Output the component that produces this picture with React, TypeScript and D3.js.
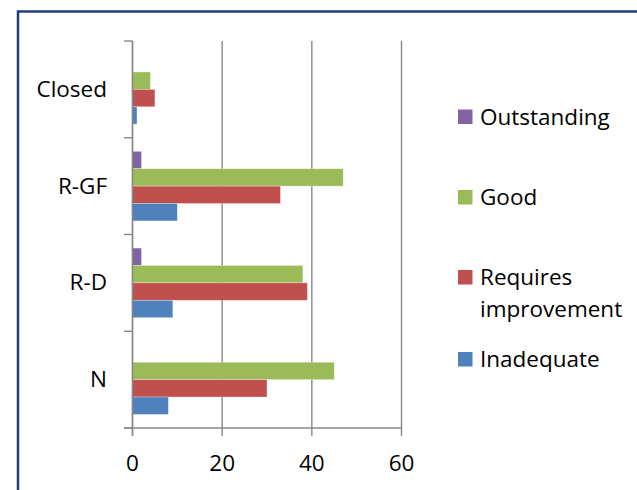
import React from "react";
import * as d3 from "d3";

const categories = ["Closed", "R-GF", "R-D", "N"];
const seriesNames = ["Outstanding", "Good", "Requires improvement", "Inadequate"];
const outstanding = [0, 2, 2, 0];
const good = [4, 47, 38, 45];
const requiresImprovement = [5, 33, 39, 30];
const inadequate = [1, 10, 9, 8];
const xTicks = [0, 20, 40, 60];
const colors = ["#8064A2", "#9BBB59", "#C0504D", "#4F81BD"];

const seriesValues = [outstanding, good, requiresImprovement, inadequate];

export default function App() {
  const W = 637, H = 490;
  const x = d3.scaleLinear().domain([0, 60]).range([132.5, 401.5]);
  const y = d3.scaleBand().domain(categories).range([41, 428]).paddingInner(0).paddingOuter(0);
  const inner = d3.scaleBand().domain(seriesNames).range([0, y.bandwidth()]).paddingInner(0).paddingOuter(0.78);
  const font = "'Open Sans', Lato, sans-serif";
  const grid = "#878787";
  const fs = 22.5;
  const bandEdges = [...categories.map((c) => y(c) as number), 428];

  const legendItems = [
    { name: "Outstanding", lines: ["Outstanding"], sq: 109.5, base: [124.5] },
    { name: "Good", lines: ["Good"], sq: 190, base: [205] },
    { name: "Requires improvement", lines: ["Requires", "improvement"], sq: 270, base: [285, 317] },
    { name: "Inadequate", lines: ["Inadequate"], sq: 352, base: [366.5] },
  ];

  return (
    <svg width={W} height={H} style={{ position: "fixed", left: 0, top: 0, background: "#fff" }} fontFamily={font}>
      <rect x={0} y={0} width={W} height={H} fill="#fff" />
      <rect x={18} y={11.5} width={800} height={600} fill="none" stroke="#1F3E7A" strokeWidth={2.5} />
      {/* gridlines */}
      {xTicks.map((t) => (
        <line key={"g" + t} x1={x(t)} x2={x(t)} y1={41} y2={436} stroke={grid} strokeWidth={1.4} />
      ))}
      {/* x axis line */}
      <line x1={124} x2={x(60)} y1={428} y2={428} stroke={grid} strokeWidth={1.4} />
      {/* category ticks */}
      {bandEdges.map((e, i) => (
        <line key={"t" + i} x1={124} x2={x(0)} y1={e} y2={e} stroke={grid} strokeWidth={1.4} />
      ))}
      {/* bars */}
      {categories.map((c, ci) =>
        seriesNames.map((s, si) => {
          const v = seriesValues[si][ci];
          if (!v) return null;
          return (
            <rect
              key={c + s}
              x={x(0)}
              y={(y(c) as number) + (inner(s) as number)}
              width={x(v) - x(0)}
              height={inner.bandwidth()}
              fill={colors[si]}
              stroke="#ffffff"
              strokeOpacity={0.5}
              strokeWidth={0.6}
            />
          );
        })
      )}
      {/* axis line on top */}
      <line x1={x(0)} x2={x(0)} y1={41} y2={436} stroke={grid} strokeWidth={1.4} />
      {/* category labels */}
      {categories.map((c) => (
        <text key={"l" + c} x={107} y={(y(c) as number) + y.bandwidth() / 2 + 7.5} textAnchor="end" fontSize={fs} fill="#000">
          {c}
        </text>
      ))}
      {/* x tick labels */}
      {xTicks.map((t) => (
        <text key={"xl" + t} x={x(t)} y={470.5} textAnchor="middle" fontSize={fs} fill="#000">
          {t}
        </text>
      ))}
      {/* legend */}
      {legendItems.map((it) => {
        const si = seriesNames.indexOf(it.name);
        return (
          <g key={"lg" + it.name}>
            <rect x={458} y={it.sq} width={14.5} height={14.5} fill={colors[si]} />
            {it.lines.map((ln, li) => (
              <text key={li} x={480} y={it.base[li]} fontSize={fs} fill="#000">
                {ln}
              </text>
            ))}
          </g>
        );
      })}
    </svg>
  );
}
